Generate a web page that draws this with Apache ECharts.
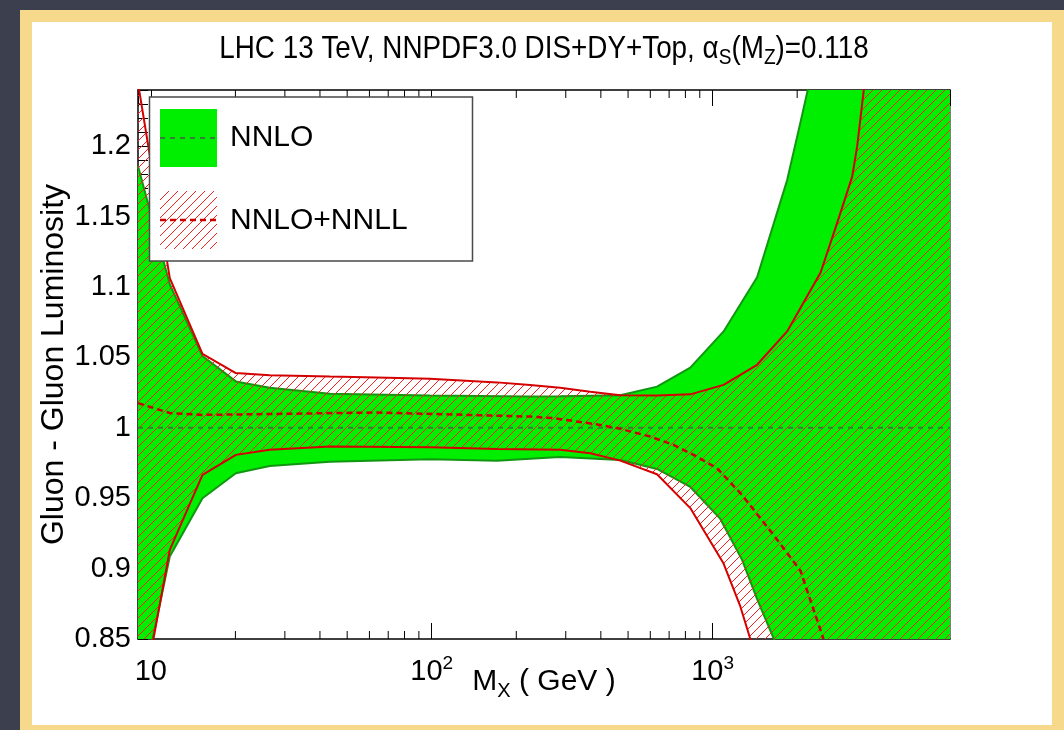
<!DOCTYPE html>
<html><head><meta charset="utf-8">
<script src="https://cdn.jsdelivr.net/npm/echarts@6/dist/echarts.min.js"></script>
<style>
html,body{margin:0;padding:0;width:1064px;height:730px;overflow:hidden;background:#3c404e;}
#panel{position:absolute;left:20px;top:10px;width:1020px;height:703px;border:12px solid #f6d98b;background:#fff;}
#chart{position:absolute;left:0;top:0;width:1064px;height:730px;}
</style></head><body>
<div id="panel"></div><div id="chart"></div>
<script>
// ---------------- data ----------------
const TITLE_MAIN = 'LHC 13 TeV, NNPDF3.0 DIS+DY+Top, ';
const Y_NAME = 'Gluon - Gluon Luminosity';
const LEGEND_NAMES = ['NNLO', 'NNLO+NNLL'];

// NNLO band (green)
const M_NNLO_UP = [9, 11.68, 15.27, 20.07, 26.5, 43.4, 98.6, 224, 286.6, 469, 633.8, 832.8, 1094, 1440, 1842, 2054, 2421, 7000];
const NNLO_UP   = [1.186, 1.102, 1.051, 1.033, 1.0285, 1.0242, 1.023, 1.0222, 1.0224, 1.0231, 1.0293, 1.0428, 1.0685, 1.107, 1.176, 1.217, 1.28, 2.4];
const M_NNLO_LO = [9, 11.68, 15.27, 20.07, 26.5, 43.4, 98.6, 170.9, 224, 286.6, 469, 633.8, 832.8, 1065, 1273, 1440, 1650, 2054, 7000];
const NNLO_LO   = [0.80, 0.9086, 0.950, 0.9677, 0.9729, 0.976, 0.9777, 0.9766, 0.978, 0.9793, 0.9772, 0.9708, 0.958, 0.9353, 0.9062, 0.8783, 0.8503, 0.805, 0.3];
const M_NNLO_C  = [9, 7000];
const NNLO_C    = [1, 1];

// NNLO+NNLL band (red hatched)
const M_NNLL_UP = [9, 11.68, 15.27, 20.07, 26.5, 43.4, 63.8, 98.6, 170.9, 224, 286.6, 366.6, 469, 633.8, 832.8, 1094, 1440, 1842, 2421, 2776, 3140, 3271, 3453, 7000];
const NNLL_UP   = [1.245, 1.1063, 1.0526, 1.0389, 1.0374, 1.0364, 1.0357, 1.0348, 1.0323, 1.0305, 1.0285, 1.0256, 1.0232, 1.0229, 1.0238, 1.0305, 1.0448, 1.0685, 1.1101, 1.1456, 1.1785, 1.2001, 1.2401, 2.0];
const M_NNLL_LO = [9, 11.68, 15.27, 20.07, 26.5, 43.4, 98.6, 170.9, 286.6, 366.6, 469, 633.8, 832.8, 1094, 1255, 1362, 2054, 7000];
const NNLL_LO   = [0.79, 0.9133, 0.9666, 0.9808, 0.9844, 0.9867, 0.9863, 0.985, 0.9844, 0.982, 0.9767, 0.967, 0.943, 0.9036, 0.8731, 0.85, 0.6, 0.3];
const M_NNLL_C  = [9, 11.68, 15.27, 20.07, 63.8, 224, 271, 398, 469, 600, 726, 855.7, 1037, 1273, 1646, 2054, 2481];
const NNLL_C    = [1.0176, 1.0105, 1.0092, 1.0095, 1.0109, 1.008, 1.0069, 1.0021, 0.9993, 0.9938, 0.9879, 0.9808, 0.9713, 0.9523, 0.924, 0.8985, 0.85];

// axis ranges and minor tick positions on the log axis
const X_MIN = 9, X_MAX = 7000;
const Y_MIN = 0.85, Y_MAX = 1.24, Y_STEP = 0.05;
const X_MINOR = [20, 30, 40, 50, 60, 70, 80, 90, 200, 300, 400, 500, 600, 700, 800, 900, 2000, 3000, 4000, 5000, 6000];

// ---------------- styling ----------------
const FONT = "'Liberation Sans', Arial, Helvetica, sans-serif";
const GREEN = '#00ee00';
const GREEN_EDGE = '#129612';
const RED = '#d40000';

function hatchPattern() {
  const c = document.createElement('canvas');
  const s = 9;
  c.width = s; c.height = s;
  const g = c.getContext('2d');
  g.strokeStyle = '#ff1e1e';
  g.lineWidth = 1;
  for (const k of [-s, 0, s]) {
    g.beginPath(); g.moveTo(k, s); g.lineTo(k + s, 0); g.stroke();
  }
  return { image: c, repeat: 'repeat' };
}
const HATCH = hatchPattern();

function pairs(m, v) { return m.map((x, i) => [x, v[i]]); }

function bandSeries(mUp, vUp, mLo, vLo, fill, z) {
  return {
    type: 'custom', z: z, silent: true, clip: true, animation: false,
    xAxisIndex: 0, yAxisIndex: 0,
    data: [[mUp[0], vUp[0]]],
    renderItem: function (params, api) {
      const pts = [];
      for (let i = 0; i < mUp.length; i++) pts.push(api.coord([mUp[i], vUp[i]]));
      for (let i = mLo.length - 1; i >= 0; i--) pts.push(api.coord([mLo[i], vLo[i]]));
      return { type: 'polygon', shape: { points: pts }, style: { fill: fill, stroke: null } };
    }
  };
}
function lineSeries(m, v, color, width, dash, z) {
  return {
    type: 'line', data: pairs(m, v), symbol: 'none', showSymbol: false, z: z, silent: true,
    clip: true, animation: false, emphasis: { disabled: true },
    lineStyle: { color: color, width: width, type: dash || 'solid' }
  };
}

function xLabel(v) {
  const e = Math.log10(v), r = Math.round(e);
  if (Math.abs(e - r) > 1e-6) return '';
  if (r === 1) return '{b|10}';
  return '{b|10}{s|' + r + '}';
}

const chart = echarts.init(document.getElementById('chart'), null, { renderer: 'canvas' });
chart.setOption({
  animation: false,
  backgroundColor: 'transparent',
  grid: { left: 138, top: 90, width: 812, height: 549 },
  xAxis: [{
    type: 'log', logBase: 10, min: X_MIN, max: X_MAX, position: 'bottom',
    axisLine: { lineStyle: { color: '#000', width: 1.5 } },
    axisTick: { inside: true, length: 16, lineStyle: { color: '#000', width: 1 } },
    splitLine: { show: false }, minorTick: { show: false },
    axisLabel: {
      interval: 0, showMinLabel: false, showMaxLabel: false, margin: 15, color: '#000',
      formatter: xLabel,
      rich: {
        b: { fontSize: 29, fontFamily: FONT, color: '#000', lineHeight: 36 },
        s: { fontSize: 19, fontFamily: FONT, color: '#000', verticalAlign: 'top' }
      }
    },
    name: '{m|M}{x|X}{m| ( GeV )}', nameLocation: 'middle', nameGap: 24, nameMoveOverlap: false,
    nameTextStyle: {
      rich: {
        m: { fontSize: 30, fontFamily: FONT, color: '#000', lineHeight: 38 },
        x: { fontSize: 20, fontFamily: FONT, color: '#000', verticalAlign: 'bottom' }
      }
    }
  }, {
    type: 'log', logBase: 10, min: X_MIN, max: X_MAX, position: 'top',
    axisLine: { lineStyle: { color: '#000', width: 1.5 } },
    axisTick: { inside: true, length: 16, lineStyle: { color: '#000', width: 1 } },
    axisLabel: { show: false }, splitLine: { show: false }
  }],
  yAxis: [{
    type: 'value', min: Y_MIN, max: Y_MAX, interval: Y_STEP, position: 'left',
    axisLine: { lineStyle: { color: '#000', width: 1.5 } },
    axisTick: { inside: true, length: 10, lineStyle: { color: '#000', width: 1 } },
    minorTick: { show: true, splitNumber: 5, length: 10, lineStyle: { color: '#000', width: 1 } },
    splitLine: { show: false },
    axisLabel: { showMaxLabel: false, margin: 7, fontSize: 29, fontFamily: FONT, color: '#000' },
    name: Y_NAME, nameLocation: 'middle', nameGap: 68, nameRotate: 90, nameMoveOverlap: false,
    nameTextStyle: { fontSize: 32, fontFamily: FONT, color: '#000' }
  }, {
    type: 'value', min: Y_MIN, max: Y_MAX, interval: Y_STEP, position: 'right',
    axisLine: { show: true, lineStyle: { color: '#555', width: 1.5 } },
    axisTick: { show: false }, axisLabel: { show: false }, splitLine: { show: false }
  }],
  series: [
    {
      type: 'custom', z: 1, silent: true, clip: false, animation: false,
      xAxisIndex: 0, yAxisIndex: 0,
      data: X_MINOR.map(v => [v, Y_MIN]),
      renderItem: function (params, api) {
        const b = api.coord([api.value(0), Y_MIN]);
        const t = api.coord([api.value(0), Y_MAX]);
        return { type: 'group', children: [
          { type: 'line', shape: { x1: b[0], y1: b[1], x2: b[0], y2: b[1] - 8 }, style: { stroke: '#000', lineWidth: 1 } },
          { type: 'line', shape: { x1: t[0], y1: t[1], x2: t[0], y2: t[1] + 8 }, style: { stroke: '#000', lineWidth: 1 } }
        ] };
      }
    },
    bandSeries(M_NNLO_UP, NNLO_UP, M_NNLO_LO, NNLO_LO, GREEN, 2),
    lineSeries(M_NNLO_UP, NNLO_UP, GREEN_EDGE, 2, null, 3),
    lineSeries(M_NNLO_LO, NNLO_LO, GREEN_EDGE, 2, null, 3),
    bandSeries(M_NNLL_UP, NNLL_UP, M_NNLL_LO, NNLL_LO, HATCH, 4),
    lineSeries(M_NNLL_UP, NNLL_UP, RED, 2, null, 5),
    lineSeries(M_NNLL_LO, NNLL_LO, RED, 2, null, 5),
    lineSeries(M_NNLO_C, NNLO_C, '#347f34', 2, [5, 5], 6),
    lineSeries(M_NNLL_C, NNLL_C, '#cc0000', 2.5, [6, 4], 6)
  ],
  graphic: [
    { type: 'text', x: 544, y: 29, scaleX: 0.87, z: 100,
      style: {
        text: '{t|' + TITLE_MAIN + 'α}{s|S}{t|(M}{s|Z}{t|)=0.118}',
        align: 'center', verticalAlign: 'top',
        rich: {
          t: { fontSize: 32, fontFamily: FONT, fill: '#000', color: '#000', lineHeight: 40 },
          s: { fontSize: 22, fontFamily: FONT, fill: '#000', color: '#000', verticalAlign: 'bottom' }
        }
      } },
    { type: 'rect', z: 100, shape: { x: 149.5, y: 97, width: 323, height: 164 },
      style: { fill: '#fff', stroke: '#4a4a4a', lineWidth: 1.5 } },
    { type: 'rect', z: 101, shape: { x: 160, y: 109, width: 57, height: 58 }, style: { fill: GREEN } },
    { type: 'line', z: 102, shape: { x1: 160, y1: 138, x2: 217, y2: 138 },
      style: { stroke: '#347f34', lineWidth: 2, lineDash: [5, 5] } },
    { type: 'text', z: 102, x: 230, y: 138,
      style: { text: LEGEND_NAMES[0], fontSize: 30, fontFamily: FONT, fill: '#000', align: 'left', verticalAlign: 'middle' } },
    { type: 'rect', z: 101, shape: { x: 160, y: 191, width: 57, height: 58 }, style: { fill: HATCH } },
    { type: 'line', z: 102, shape: { x1: 160, y1: 220, x2: 217, y2: 220 },
      style: { stroke: '#cc0000', lineWidth: 2.5, lineDash: [6, 4] } },
    { type: 'text', z: 102, x: 230, y: 220.5,
      style: { text: LEGEND_NAMES[1], fontSize: 30, fontFamily: FONT, fill: '#000', align: 'left', verticalAlign: 'middle' } }
  ]
});
</script></body></html>
